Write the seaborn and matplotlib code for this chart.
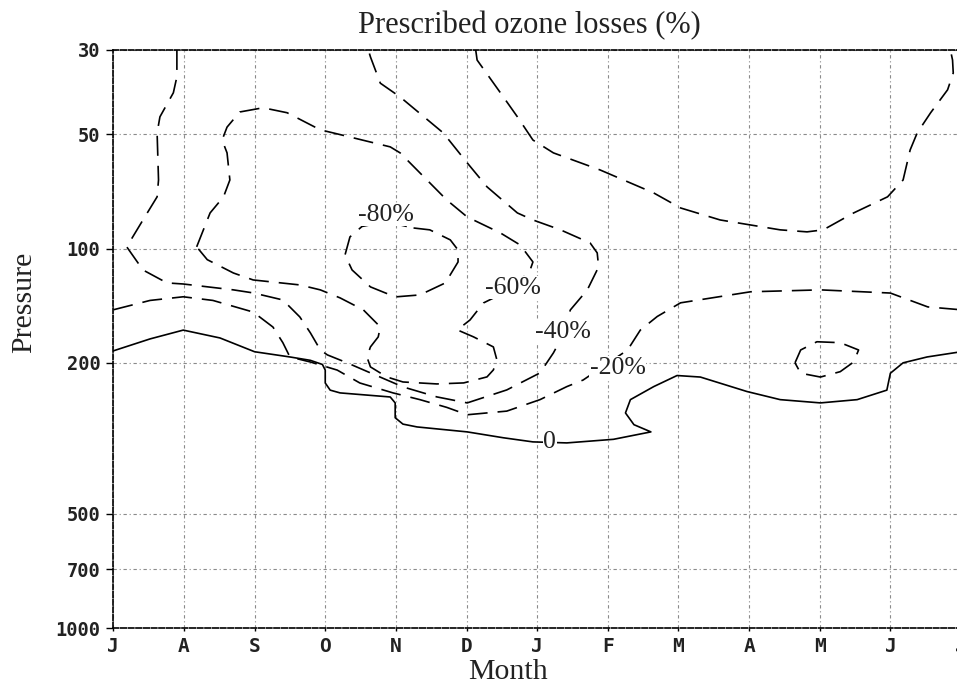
import numpy as np
import pandas as pd
import matplotlib
matplotlib.use("Agg")
import matplotlib.pyplot as plt
from matplotlib.ticker import NullLocator
import seaborn as sns

# months are counted from J(uly) = 0 ... 12, pressure in hPa
month_labels = ["J", "A", "S", "O", "N", "D", "J", "F", "M", "A", "M", "J", "J"]
p_ticks = [30, 50, 100, 200, 500, 700, 1000]

# 0 % contour (solid)
c0_m = [0, 0.52, 0.99, 1.51, 2.0, 2.50, 2.79, 2.96, 3.00, 3.00, 3.07, 3.21, 3.92, 3.99,
        3.99, 4.10, 4.30, 5.01, 5.52, 5.94, 6.18, 6.42, 7.08, 7.61, 7.37, 7.25, 7.32,
        7.65, 7.98, 8.31, 8.97, 9.44, 10.01, 10.53, 10.95, 11.0, 11.18, 11.52, 12.0]
c0_p = [186, 173, 164, 172, 187, 193, 197, 202, 209, 226, 236, 240, 246, 255,
        279, 290, 295, 304, 315, 323, 324, 325, 318, 304, 291, 271, 250,
        231, 216, 218, 238, 250, 255, 250, 236, 213, 200, 193, 187]

# -20 % contours
c20_m = [0, 0.52, 0.99, 1.41, 1.98, 2.26, 2.40, 2.50, 2.79, 3.17, 3.49, 3.96, 4.34, 4.72,
         5.01, 5.57, 6.04, 6.42, 6.65, 7.28, 7.46, 7.70, 8.03, 9.02, 10.01, 11.0, 11.53, 12.0]
c20_p = [145, 137, 134, 137, 147, 161, 177, 193, 199, 209, 226, 240, 250, 262,
         274, 268, 250, 231, 222, 185, 164, 151, 139, 130, 128.5, 131, 142.5, 145]
c20_top_m = [5.13, 5.15, 5.48, 5.72, 5.94, 6.23, 6.89, 7.32, 7.65, 8.03, 8.59, 9.02, 9.44,
             9.82, 10.05, 10.48, 10.96, 11.18, 11.28, 11.38, 11.57, 11.81, 11.89, 11.88, 11.85]
c20_top_p = [30, 31.9, 38.9, 45.0, 51.8, 56.0, 62.1, 67.2, 71.4, 78.2, 84.1, 86.7, 89.3,
             90.4, 89.3, 80.6, 73.1, 66.0, 55.0, 49.6, 43.9, 38.2, 34.5, 31.9, 30]
c20_loop_m = [9.65, 9.73, 9.96, 10.29, 10.55, 10.48, 10.29, 10.01, 9.73, 9.65]
c20_loop_p = [200, 185, 176, 177, 185, 199, 211, 218, 213, 200]

# -40 % contour
c40_m = [0.90, 0.90, 0.90, 0.85, 0.66, 0.62, 0.64, 0.62, 0.42, 0.19, 0.42, 0.76, 0.99,
         1.70, 1.98, 2.40, 2.64, 2.79, 2.93, 3.03, 3.31, 3.64, 3.87, 4.10, 4.58, 5.01,
         5.57, 6.04, 6.23, 6.33, 6.47, 6.71, 6.87, 6.85, 6.75, 6.33, 5.94, 5.72, 5.29,
         5.01, 4.67, 4.06, 3.78, 3.64, 3.61]
c40_p = [30, 31.3, 35.3, 38.9, 45.0, 49.6, 66.0, 73.1, 84.1, 99.0, 113.9, 123.2, 124.0,
         128.5, 130.9, 136.6, 151.4, 166.8, 184.9, 190.6, 200, 212.6, 221.8, 231.4, 245.9, 255,
         235.7, 212.6, 188.3, 174, 145.1, 128.5, 111.8, 102.7, 96.7, 89.3, 84.1, 80.6, 68.8,
         59.5, 49.6, 39.9, 36.7, 31.3, 30]

# -60 % contour
c60_m = [1.18, 1.37, 1.56, 1.65, 1.61, 1.54, 1.61, 1.79, 2.12, 2.46, 2.93, 3.11, 3.92, 4.06,
         4.72, 5.01, 5.48, 5.76, 5.94, 5.90, 5.67, 5.24, 5.05, 4.87, 5.10, 5.38, 5.43, 5.38,
         5.29, 4.96, 4.58, 4.10, 3.87, 3.64, 3.59, 3.64, 3.75, 3.78, 3.54, 3.21, 2.93, 2.64,
         1.98, 1.70, 1.33, 1.18]
c60_p = [99, 80.6, 73.1, 66.0, 56.0, 51.8, 47.9, 43.7, 42.6, 43.9, 48.7, 49.6, 54.0, 56.0,
         74.5, 82.6, 91.0, 97.9, 108.5, 113.9, 127, 139.1, 154.2, 163.8, 170.9, 181.6, 196.5, 208.8,
         217.8, 225.9, 227.3, 224.6, 217.8, 205.0, 193.0, 181.6, 170.9, 160.9, 145.1, 134.9, 128.5, 124.7,
         121, 116, 107, 99]

# -80 % contour
c80_m = [4.25, 4.48, 4.77, 4.88, 4.88, 4.70, 4.34, 3.99, 3.64, 3.38, 3.28, 3.35, 3.52, 3.86, 4.25]
c80_p = [88.3, 89.3, 94.9, 100.9, 108.5, 123.2, 132.5, 134.1, 126.2, 113.9, 104.0, 93.2, 87.5, 85, 88.3]

contour_labels = ["-80%", "-60%", "-40%", "-20%", "0"]
label_m = [3.86, 5.65, 6.36, 7.14, 6.18]
label_p = [81.6, 127, 166, 206, 323]

sns.set_theme(style="white")
serif = ["Liberation Serif", "DejaVu Serif"]
plt.rcParams["font.family"] = serif

fig = plt.figure(figsize=(9.57, 6.85), dpi=100)
ax = fig.add_axes([0.1184, 0.0828, 0.8858, 0.8443])
ax.set_yscale("log")

dash = (0, (12, 6))
lines = [
    (c0_m, c0_p, "-"),
    (c20_m, c20_p, dash),
    (c20_top_m, c20_top_p, dash),
    (c20_loop_m, c20_loop_p, dash),
    (c40_m, c40_p, dash),
    (c60_m, c60_p, dash),
    (c80_m, c80_p, dash),
]
for xs, ys, ls in lines:
    sns.lineplot(x=xs, y=ys, sort=False, estimator=None, ax=ax, color="black",
                 linewidth=1.2, linestyle=ls, zorder=3)

for txt, xm, yp in zip(contour_labels, label_m, label_p):
    ax.text(xm, yp, txt, ha="center", va="center", fontsize=18.5, family=serif,
            color="#222222", zorder=5,
            bbox=dict(facecolor="white", edgecolor="none", pad=0.3))

ax.set_xlim(0, 12)
ax.set_ylim(1000, 30)
ax.set_xticks(range(13))
ax.set_xticklabels(month_labels)
ax.set_yticks(p_ticks)
ax.set_yticklabels([str(v) for v in p_ticks])
ax.yaxis.set_minor_locator(NullLocator())

grid_ls = (0, (3, 2.5, 1, 2.5))
ax.grid(True, color="#8a8a8a", linestyle=grid_ls, linewidth=0.8, zorder=1)
ax.set_axisbelow(True)

for sp in ax.spines.values():
    sp.set_color("black")
    sp.set_linewidth(1.2)
    sp.set_linestyle((0, (3.3, 1.3)))

ax.tick_params(axis="y", direction="out", length=4.8, width=1, pad=4.5, color="black", left=True)
ax.tick_params(axis="x", direction="out", length=2, width=1, pad=4.3, color="black", bottom=True)
for lab in ax.get_yticklabels():
    lab.set_fontfamily(["DejaVu Sans Mono"])
    lab.set_fontweight("bold")
    lab.set_fontsize(13.5)
    lab.set_color("#222222")
for lab in ax.get_xticklabels():
    lab.set_fontfamily(["DejaVu Sans Mono"])
    lab.set_fontweight("bold")
    lab.set_fontsize(14)
    lab.set_color("#222222")

ax.set_xlabel("")
ax.set_ylabel("")
fig.text(529 / 957, 1 - 33 / 685, "Prescribed ozone losses (%)", ha="center", va="baseline",
         fontsize=22, family=serif, color="#222222")
fig.text(507.5 / 957, 1 - 679 / 685, "Month", ha="center", va="baseline",
         fontsize=21.5, family=serif, color="#222222")
fig.text(24 / 957, 1 - 302 / 685, "Pressure", ha="center", va="center", rotation=90,
         fontsize=21.5, family=serif, color="#222222")

fig.savefig("out.png", dpi=100)
